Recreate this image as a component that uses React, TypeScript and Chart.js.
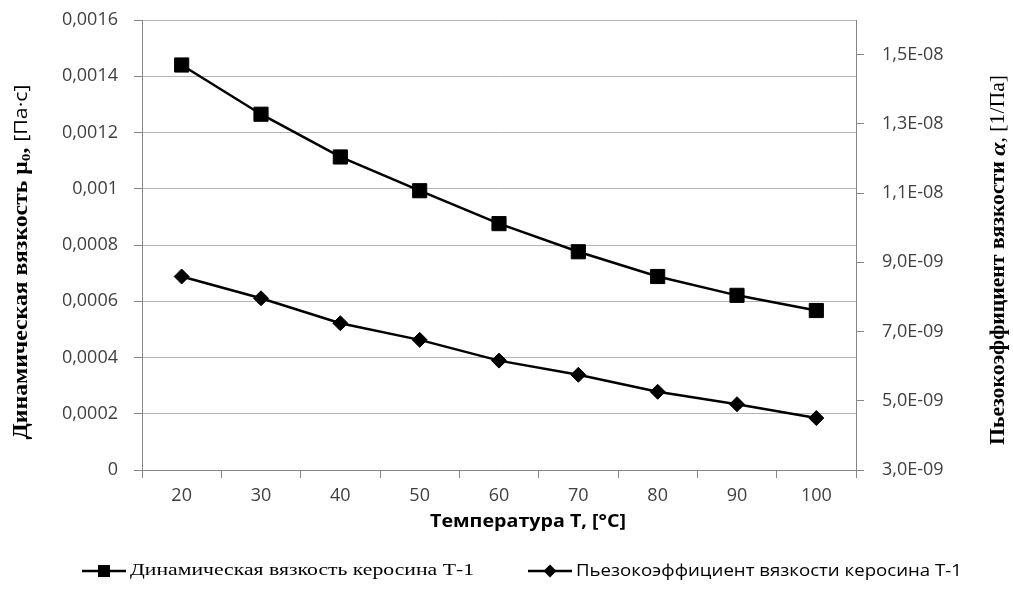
import React, { useEffect, useRef } from 'react';
import { Chart, registerables } from 'chart.js';

Chart.register(...registerables);

// ---- data ----
const temperatures = ['20', '30', '40', '50', '60', '70', '80', '90', '100'];
const dynamicViscosity = [0.00144, 0.001265, 0.001113, 0.000993, 0.000876, 0.000776, 0.000688, 0.000621, 0.000567];
const piezoCoefficient = [8.59e-9, 7.96e-9, 7.24e-9, 6.76e-9, 6.16e-9, 5.75e-9, 5.26e-9, 4.9e-9, 4.5e-9];

const leftTickValues = [0, 0.0002, 0.0004, 0.0006, 0.0008, 0.001, 0.0012, 0.0014, 0.0016];
const leftTickLabels = ['0', '0,0002', '0,0004', '0,0006', '0,0008', '0,001', '0,0012', '0,0014', '0,0016'];
const rightTickValues = [3e-9, 5e-9, 7e-9, 9e-9, 1.1e-8, 1.3e-8, 1.5e-8];
const rightTickLabels = ['3,0E-09', '5,0E-09', '7,0E-09', '9,0E-09', '1,1E-08', '1,3E-08', '1,5E-08'];
const rightAxisMin = 3e-9;
const rightAxisMax = 1.6e-8;

const seriesNames = ['Динамическая вязкость керосина Т-1', 'Пьезокоэффициент вязкости керосина Т-1'];
const xTitle = 'Температура T, [°C]';

const AXIS = '#868686';
const GRID = '#b4b4b4';
const TICK_TEXT = '#404040';
const SANS = '"Open Sans", "DejaVu Sans", sans-serif';
const SERIF = '"Liberation Serif", "DejaVu Serif", serif';

type Seg = { t: string; font: string; dy?: number };

function drawRich(
  ctx: CanvasRenderingContext2D,
  segs: Seg[],
  cx: number,
  cy: number,
  rotate: boolean,
  targetLen?: number
) {
  ctx.save();
  let total = 0;
  const widths = segs.map((s) => {
    ctx.font = s.font;
    const w = ctx.measureText(s.t).width;
    total += w;
    return w;
  });
  ctx.translate(cx, cy);
  if (rotate) ctx.rotate(-Math.PI / 2);
  if (targetLen) ctx.scale(targetLen / total, 1);
  ctx.textBaseline = 'middle';
  ctx.textAlign = 'left';
  ctx.fillStyle = '#000';
  let x = -total / 2;
  segs.forEach((s, i) => {
    ctx.font = s.font;
    ctx.fillText(s.t, x, s.dy || 0);
    x += widths[i];
  });
  ctx.restore();
}

function drawFitText(ctx: CanvasRenderingContext2D, text: string, font: string, x0: number, x1: number, y: number) {
  ctx.save();
  ctx.font = font;
  const w = ctx.measureText(text).width;
  ctx.translate(x0, y);
  ctx.scale((x1 - x0) / w, 1);
  ctx.textBaseline = 'middle';
  ctx.textAlign = 'left';
  ctx.fillStyle = '#000';
  ctx.fillText(text, 0, 0);
  ctx.restore();
}

const decorPlugin = {
  id: 'decor',
  afterDraw(chart: any) {
    const ctx: CanvasRenderingContext2D = chart.ctx;
    // left axis title
    drawRich(
      ctx,
      [
        { t: 'Динамическая вязкость ', font: `bold 20px ${SERIF}` },
        { t: 'μ', font: `bold 20px ${SERIF}` },
        { t: '0', font: `bold 13px ${SERIF}`, dy: 5 },
        { t: ', ', font: `bold 20px ${SERIF}` },
        { t: '[Па·с]', font: `18px ${SANS}` },
      ],
      22,
      262,
      true,
      355
    );
    // right axis title
    drawRich(
      ctx,
      [
        { t: 'Пьезокоэффициент вязкости ', font: `bold 20px ${SERIF}` },
        { t: 'α', font: `italic bold 22px ${SERIF}` },
        { t: ', [1/Па]', font: `20px ${SERIF}` },
      ],
      999,
      260,
      true,
      370
    );
    // x axis title
    drawRich(ctx, [{ t: xTitle, font: `bold 18px ${SANS}` }], 528, 522, false, 196);

    // legend
    const ly = 571;
    ctx.save();
    ctx.strokeStyle = '#000';
    ctx.fillStyle = '#000';
    ctx.lineWidth = 2.5;
    ctx.beginPath();
    ctx.moveTo(82, ly);
    ctx.lineTo(126, ly);
    ctx.stroke();
    ctx.fillRect(104 - 6, ly - 6, 12, 12);
    ctx.beginPath();
    ctx.moveTo(528, ly);
    ctx.lineTo(572, ly);
    ctx.stroke();
    ctx.beginPath();
    ctx.moveTo(550 - 6.5, ly);
    ctx.lineTo(550, ly - 6.5);
    ctx.lineTo(550 + 6.5, ly);
    ctx.lineTo(550, ly + 6.5);
    ctx.closePath();
    ctx.fill();
    ctx.restore();
    drawFitText(ctx, seriesNames[0], `17px ${SERIF}`, 130, 474, ly);
    drawFitText(ctx, seriesNames[1], `17px ${SANS}`, 576, 962, ly);
  },
};

export default function App() {
  const ref = useRef<HTMLCanvasElement | null>(null);
  useEffect(() => {
    if (!ref.current) return;
    const chart = new Chart(ref.current, {
      type: 'line',
      data: {
        labels: temperatures,
        datasets: [
          {
            label: seriesNames[0],
            data: dynamicViscosity,
            yAxisID: 'y',
            borderColor: '#000',
            backgroundColor: '#000',
            borderWidth: 2.5,
            pointStyle: 'rect',
            pointRadius: 10,
            pointBorderWidth: 1,
            tension: 0,
          },
          {
            label: seriesNames[1],
            data: piezoCoefficient,
            yAxisID: 'y1',
            borderColor: '#000',
            backgroundColor: '#000',
            borderWidth: 2.5,
            pointStyle: 'rectRot',
            pointRadius: 7.5,
            pointBorderWidth: 1,
            tension: 0,
          },
        ],
      },
      options: {
        animation: false,
        responsive: false,
        devicePixelRatio: 1,
        layout: { padding: { top: 20, left: 0, right: 0, bottom: 0 } },
        plugins: { legend: { display: false }, tooltip: { enabled: false } },
        scales: {
          x: {
            type: 'category',
            offset: true,
            grid: { offset: true, drawOnChartArea: false, drawTicks: true, tickLength: 8, color: AXIS, tickColor: AXIS },
            border: { color: AXIS, width: 1 },
            ticks: { color: TICK_TEXT, font: { family: SANS, size: 18 }, padding: 7, maxRotation: 0, autoSkip: false },
            afterFit: (s: any) => {
              s.height = 131;
              s.paddingLeft = 0;
              s.paddingRight = 0;
            },
          },
          y: {
            position: 'left',
            min: 0,
            max: 0.0016,
            afterBuildTicks: (s: any) => {
              s.ticks = leftTickValues.map((v) => ({ value: v }));
            },
            grid: { color: GRID, tickColor: AXIS, tickLength: 8, drawTicks: true },
            border: { color: AXIS, width: 1 },
            ticks: {
              color: TICK_TEXT,
              font: { family: SANS, size: 18 },
              padding: 16,
              callback: (_v: any, i: number) => leftTickLabels[i],
            },
            afterFit: (s: any) => {
              s.width = 142;
              s.paddingTop = 0;
              s.paddingBottom = 0;
            },
          },
          y1: {
            position: 'right',
            min: rightAxisMin,
            max: rightAxisMax,
            afterBuildTicks: (s: any) => {
              s.ticks = rightTickValues.map((v) => ({ value: v }));
            },
            grid: { drawOnChartArea: false, tickColor: AXIS, tickLength: 8, drawTicks: true },
            border: { color: AXIS, width: 1 },
            ticks: {
              color: TICK_TEXT,
              font: { family: SANS, size: 18 },
              padding: 18,
              callback: (_v: any, i: number) => rightTickLabels[i],
            },
            afterFit: (s: any) => {
              s.width = 157;
              s.paddingTop = 0;
              s.paddingBottom = 0;
            },
          },
        },
      },
      plugins: [decorPlugin],
    });
    return () => chart.destroy();
  }, []);
  return (
    <div style={{ position: 'absolute', left: 0, top: 0, width: 1013, height: 601, background: '#fff' }}>
      <canvas ref={ref} width={1013} height={601} style={{ display: 'block', width: 1013, height: 601 }} />
    </div>
  );
}
